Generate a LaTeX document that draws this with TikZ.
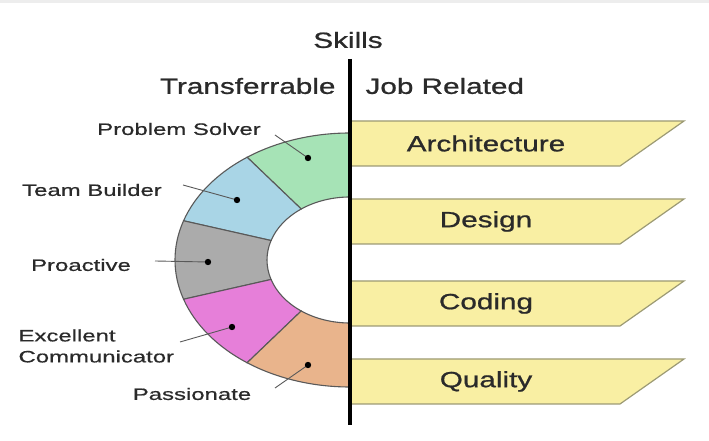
\documentclass[tikz,border=0pt]{standalone}
\usepackage{fontspec}
\setmainfont{Liberation Sans}[FakeStretch=1.35, FakeBold=0.9]
\newfontfamily\lblfont{Liberation Sans}[FakeStretch=1.45, FakeBold=0.7]
\usetikzlibrary{positioning}
\definecolor{segGreen}{HTML}{A6E3B6}
\definecolor{segBlue}{HTML}{A9D5E6}
\definecolor{segGray}{HTML}{ABABAB}
\definecolor{segPink}{HTML}{E67FD9}
\definecolor{segPeach}{HTML}{E9B48C}
\definecolor{bandFill}{HTML}{F9EFA3}
\definecolor{bandLine}{HTML}{9C9A74}
\definecolor{txtGray}{HTML}{2A2A2A}

\begin{document}
\begin{tikzpicture}[x=1pt, y=1pt,
    ringseg/.style={draw=black!65, line width=1.1pt},
    bandshape/.style={draw=bandLine, fill=bandFill, line width=1.2pt},
    bandtext/.style={font=\fontsize{22}{24}\selectfont, text=txtGray},
    headtext/.style={font=\fontsize{22}{24}\selectfont, text=txtGray},
    sidelabel/.style={font=\lblfont\fontsize{16.5}{21}\selectfont, text=txtGray, align=left},
    pointer/.style={draw=black!65, line width=0.9pt}]

        \useasboundingbox (0,0) rectangle (709,441);
        \fill[gray!14] (0,438) rectangle (709,441);

        % ring of transferrable skills
        \coordinate (c) at (350,181);
        \foreach \a/\b/\col in {90/126/segGreen, 126/162/segBlue, 162/198/segGray, 198/234/segPink, 234/270/segPeach} {
            \filldraw[ringseg, fill=\col, shift={(c)}] (\a:83pt and 63pt) -- (\a:175pt and 127pt)
                arc[start angle=\a, end angle=\b, x radius=175pt, y radius=127pt]
                -- (\b:83pt and 63pt)
                arc[start angle=\b, end angle=\a, x radius=83pt, y radius=63pt] -- cycle;
        }

        % job related bands
        \foreach \t/\name in {320/Architecture, 242/Design, 160/Coding, 82/Quality} {
            \filldraw[bandshape] (350,\t) -- (684,\t) -- (620,\t-45) -- (350,\t-45) -- cycle;
            \node[bandtext] (band\name) at (486,\t-22.5) {\name};
        }

        % divider and headings
        \coordinate (divtop) at (350,382);
        \coordinate (divbot) at (350,16);
        \draw[line width=3.5pt] (divtop) -- (divbot);
        \node[headtext] (skills) at (348,401) {Skills};
        \node[headtext, anchor=east] (transf) at (339,355) {Transferrable};
        \node[headtext, anchor=west] (jobrel) at (362,355) {Job Related};

        % labels with pointers
        \node[sidelabel] (lblProblem) at (179,312) {Problem Solver};
        \node[sidelabel] (lblTeam) at (92,251) {Team Builder};
        \node[sidelabel] (lblProactive) at (81,176) {Proactive};
        \node[sidelabel, anchor=west] (lblExcellent) at (15,95) {Excellent\\Communicator};
        \node[sidelabel] (lblPassionate) at (192,47) {Passionate};

        \coordinate (dotProblem) at (308,283);
        \coordinate (dotTeam) at (237,241);
        \coordinate (dotProactive) at (208,179);
        \coordinate (dotExcellent) at (232,114);
        \coordinate (dotPassionate) at (308,76);

        \coordinate (tailProblem) at (275,306);
        \coordinate (tailTeam) at (183,256);
        \coordinate (tailProactive) at (155,180);
        \coordinate (tailExcellent) at (180,99);
        \coordinate (tailPassionate) at (275,53);

        \foreach \n in {Problem, Team, Proactive, Excellent, Passionate} {
            \draw[pointer] (tail\n) -- (dot\n);
            \fill (dot\n) circle (3.2);
        }

\end{tikzpicture}
\end{document}
